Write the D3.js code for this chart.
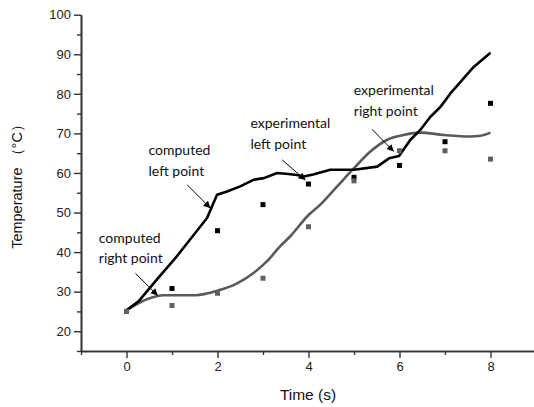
<!DOCTYPE html>
<html><head><meta charset="utf-8">
<script src="https://cdn.jsdelivr.net/npm/d3@7"></script>
<style>body{margin:0;background:#fff}svg{display:block}</style>
</head><body>
<svg id="c" width="534" height="407"></svg>
<script>
// Data
const computedLeftT = [0,0.27,0.67,1.11,1.48,1.77,1.99,2.21,2.5,2.8,3.02,3.31,3.5,3.75,3.9,4.1,4.48,5.0,5.51,5.77,5.99,6.24,6.46,6.68,6.9,7.12,7.38,7.63,8.0];
const computedLeftV = [25.3,27.6,33.1,39,44.4,48.6,54.5,55.3,56.6,58.3,58.7,60,59.8,59.5,59.1,59.6,60.8,60.8,61.6,63.7,64.3,68.4,70.9,74.2,76.7,80.1,83.5,86.8,90.4];
const computedRightT = [0,0.45,0.82,1.19,1.52,1.99,2.43,2.8,3.09,3.38,3.6,3.97,4.26,4.63,5.0,5.36,5.73,6.09,6.46,6.97,7.56,7.78,8.0];
const computedRightV = [25.3,28.1,29.1,29.1,29.1,30.2,32.1,34.8,37.7,41.5,44,49,52,56.6,61.2,65.4,68.4,69.6,70.2,69.6,69.2,69.4,70.2];
const expTimes = [0,1,2,3,4,5,6,7,8];
const expLeft = [25,30.8,45.4,52,57.2,58.9,61.9,67.9,77.6];
const expRight = [25,26.5,29.6,33.4,46.4,58,65.6,65.6,63.5];
const xTicks = [0,2,4,6,8];
const xMinor = [-1,1,3,5,7,9];
const yTicks = [20,30,40,50,60,70,80,90,100];
const yMinor = [15,25,35,45,55,65,75,85,95];
const annotations = [
  {lines:["computed","left point"], t:0.484, v:64.5, from:[1.334,57.0], to:[1.846,51.1]},
  {lines:["computed","right point"], t:-0.609, v:42.3, from:[0.198,34.6], to:[0.688,29.0]},
  {lines:["experimental","left point"], t:2.725, v:71.3, from:[3.422,63.3], to:[3.934,58.2]},
  {lines:["experimental","right point"], t:4.996, v:79.7, from:[5.4,71.0], to:[5.875,65.4]}
];

const svg = d3.select("#c");
const x = d3.scaleLinear().domain([-1,9]).range([81,536]);
const y = d3.scaleLinear().domain([15,100]).range([351,14.7]);
const axisCol = "#333";
const font = "Arial, 'Liberation Sans', sans-serif";

svg.append("defs").append("marker")
  .attr("id","ah").attr("viewBox","0 0 10 10").attr("refX",10).attr("refY",5)
  .attr("markerWidth",9).attr("markerHeight",7).attr("markerUnits","userSpaceOnUse")
  .attr("orient","auto")
  .append("path").attr("d","M0,0L10,5L0,10z").attr("fill","#000");

// axes
svg.append("g").attr("transform",`translate(0,${y(15)})`)
  .call(d3.axisBottom(x).tickValues(xTicks).tickSize(7).tickSizeOuter(0).tickPadding(4));
svg.append("g").attr("transform",`translate(0,${y(15)})`)
  .call(d3.axisBottom(x).tickValues(xMinor).tickSize(4).tickFormat("").tickSizeOuter(0));
svg.append("g").attr("transform",`translate(${x(-1)},0)`)
  .call(d3.axisLeft(y).tickValues(yTicks).tickSize(7).tickSizeOuter(0).tickPadding(3));
svg.append("g").attr("transform",`translate(${x(-1)},0)`)
  .call(d3.axisLeft(y).tickValues(yMinor).tickSize(4).tickFormat("").tickSizeOuter(0));
svg.selectAll("g").attr("font-family",font);
svg.selectAll(".domain").attr("stroke",axisCol).attr("stroke-width",1.6);
svg.selectAll(".tick line").attr("stroke",axisCol).attr("stroke-width",1.4);
svg.selectAll(".tick text").style("font-family",font).attr("font-size",13).attr("fill","#222");

svg.append("text").attr("x",308).attr("y",400).attr("text-anchor","middle")
  .style("font-family",font).attr("font-size",15.5).attr("fill","#111").text("Time (s)");
svg.append("text").attr("transform","translate(22,183) rotate(-90)").attr("text-anchor","middle")
  .style("font-family",font).attr("font-size",14.5).attr("fill","#111").text("Temperature （°C）");

// lines
const lineL = d3.line().x(d=>x(d[0])).y(d=>y(d[1]));
const lineS = d3.line().x(d=>x(d[0])).y(d=>y(d[1])).curve(d3.curveMonotoneX);
svg.append("path").datum(computedRightT.map((t,i)=>[t,computedRightV[i]]))
  .attr("d",lineS).attr("fill","none").attr("stroke","#5a5a5a").attr("stroke-width",2.6);
svg.append("path").datum(computedLeftT.map((t,i)=>[t,computedLeftV[i]]))
  .attr("d",lineL).attr("fill","none").attr("stroke","#000").attr("stroke-width",2.6)
  .attr("stroke-linejoin","round");

// points
const sq = 5;
svg.append("g").selectAll("rect").data(expTimes.map((t,i)=>[t,expLeft[i]])).join("rect")
  .attr("x",d=>x(d[0])-sq/2).attr("y",d=>y(d[1])-sq/2).attr("width",sq).attr("height",sq).attr("fill","#000");
svg.append("g").selectAll("rect").data(expTimes.map((t,i)=>[t,expRight[i]])).join("rect")
  .attr("x",d=>x(d[0])-sq/2).attr("y",d=>y(d[1])-sq/2).attr("width",sq).attr("height",sq).attr("fill","#606060");

// annotations
const ag = svg.append("g");
annotations.forEach(a=>{
  a.lines.forEach((l,i)=>{
    ag.append("text").attr("x",x(a.t)).attr("y",y(a.v)+i*20.5)
      .style("font-family","Lato, 'Open Sans', sans-serif").attr("font-size",14).attr("fill","#111").text(l);
  });
  ag.append("line").attr("x1",x(a.from[0])).attr("y1",y(a.from[1]))
    .attr("x2",x(a.to[0])).attr("y2",y(a.to[1]))
    .attr("stroke","#000").attr("stroke-width",1).attr("marker-end","url(#ah)");
});
</script>
</body></html>
